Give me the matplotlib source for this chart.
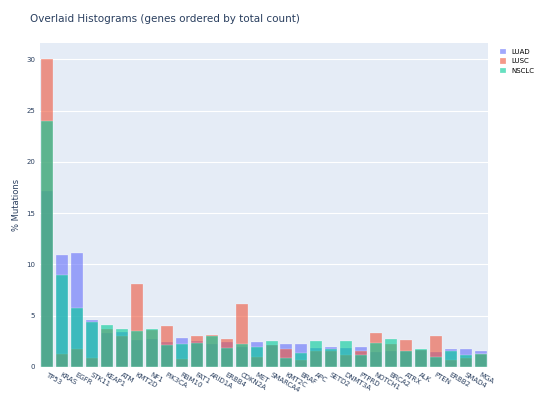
import matplotlib
matplotlib.use("Agg")
import matplotlib.pyplot as plt
import numpy as np

genes = ["TP53","KRAS","EGFR","STK11","KEAP1","ATM","KMT2D","NF1","PIK3CA","RBM10","FAT1","ARID1A","ERBB4","CDKN2A","MET","SMARCA4","KMT2C","BRAF","APC","SETD2","DNMT3A","PTPRD","NOTCH1","BRCA2","ATRX","ALK","PTEN","ERBB2","SMAD4","MGA"]
luad  = [17.2,10.9,11.1,4.6,3.3,3.4,2.6,2.7,2.4,2.8,2.5,2.2,2.4,1.9,2.4,2.1,2.2,2.2,1.8,1.9,1.8,1.9,1.5,1.55,1.55,1.65,1.5,1.7,1.7,1.6]
lusc  = [30.0,1.3,1.7,0.9,3.7,3.0,8.1,3.6,4.0,0.8,3.0,3.1,2.7,6.1,1.0,2.1,1.7,0.7,1.6,1.55,1.2,1.55,3.3,2.2,2.65,1.65,3.05,0.65,0.85,1.3]
nsclc = [24.0,9.0,5.7,4.4,4.1,3.7,3.5,3.7,2.1,2.2,2.3,3.0,1.8,2.2,1.9,2.5,0.9,1.4,2.5,1.7,2.5,1.15,2.3,2.7,1.6,1.7,0.95,1.55,1.15,1.3]

fig = plt.figure(figsize=(5.4,4.05), dpi=100)
ax = fig.add_axes([0.074, 0.094, 0.83, 0.80])
ax.set_facecolor("#E5ECF6")
x = np.arange(len(genes))
for vals, col, lab in [(luad,"#636EFA","LUAD"),(lusc,"#EF553B","LUSC"),(nsclc,"#00CC96","NSCLC")]:
    ax.bar(x, vals, width=0.8, color=col, alpha=0.6, label=lab, edgecolor="white", linewidth=0.3)
ax.set_xlim(-0.5, len(genes)-0.5)
ax.set_ylim(0, 31.6)
ax.set_yticks([0,5,10,15,20,25,30])
ax.yaxis.grid(True, color="white", linewidth=0.8)
ax.set_axisbelow(True)
for s in ax.spines.values():
    s.set_visible(False)
ax.tick_params(length=0, labelsize=5, colors="#2a3f5f")
ax.set_xticks(x)
ax.set_xticklabels(genes, rotation=-30, ha="left", rotation_mode="anchor", fontsize=5)
ax.set_ylabel("% Mutations", fontsize=6, color="#2a3f5f")
fig.text(0.055, 0.945, "Overlaid Histograms (genes ordered by total count)", fontsize=7.5, color="#2a3f5f")
fig.legend(loc="upper left", bbox_to_anchor=(0.915, 0.895), frameon=False, fontsize=5, handlelength=0.8, handleheight=0.8)
fig.savefig("out.png")
